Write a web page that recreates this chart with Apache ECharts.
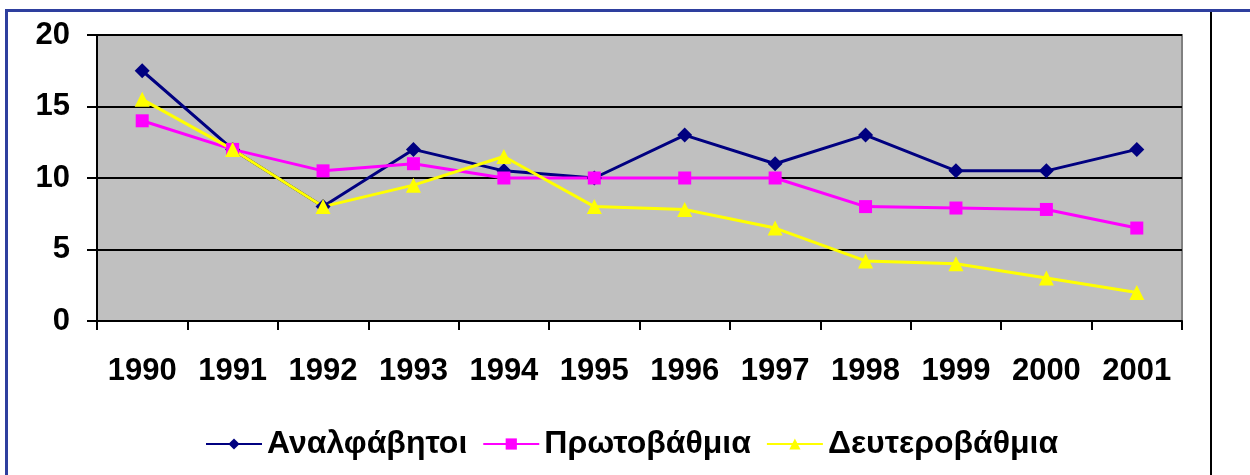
<!DOCTYPE html>
<html lang="el" style="height: 100%">

<head>
  <meta charset="utf-8" />
</head>

<body style="height: 100%; margin: 0; background: #fff">
  <div id="container" style="width: 1250px; height: 475px"></div>

  <script type="text/javascript" src="https://fastly.jsdelivr.net/npm/echarts@6.0.0/dist/echarts.min.js"></script>

  <script type="text/javascript">
    var years = ["1990", "1991", "1992", "1993", "1994", "1995", "1996", "1997", "1998", "1999", "2000", "2001"];
    var analfavitoi = [17.5, 12, 8, 12, 10.5, 10, 13, 11, 13, 10.5, 10.5, 12];
    var protovathmia = [14, 12, 10.5, 11, 10, 10, 10, 10, 8, 7.9, 7.8, 6.5];
    var defterovathmia = [15.5, 12, 8, 9.5, 11.5, 8, 7.8, 6.5, 4.2, 4, 3, 2];

    var font = "Liberation Sans, Arial, sans-serif";

    var dom = document.getElementById("container");
    var myChart = echarts.init(dom, null, { renderer: "canvas" });

    var option = {
      animation: false,
      backgroundColor: "#fff",
      graphic: [
        { type: "line", shape: { x1: 6.5, y1: 10, x2: 6.5, y2: 475 }, style: { stroke: "#2e3f9e", lineWidth: 3 } },
        { type: "line", shape: { x1: 5, y1: 10.5, x2: 1250, y2: 10.5 }, style: { stroke: "#2e3f9e", lineWidth: 3 } },
        { type: "line", shape: { x1: 1211, y1: 12, x2: 1211, y2: 475 }, style: { stroke: "#000", lineWidth: 2 } }
      ],
      grid: {
        left: 97,
        right: 68,
        top: 35,
        bottom: 154,
        show: true,
        backgroundColor: "#c0c0c0",
        borderColor: "#808080",
        borderWidth: 2
      },
      legend: {
        top: 423,
        left: 200,
        itemWidth: 56,
        itemHeight: 14,
        itemGap: 15,
        textStyle: { fontFamily: font, fontWeight: "bold", fontSize: 32, color: "#000" },
        data: ["Αναλφάβητοι", "Πρωτοβάθμια", "Δευτεροβάθμια"]
      },
      xAxis: {
        type: "category",
        data: years,
        boundaryGap: true,
        axisLine: { lineStyle: { color: "#000", width: 2 } },
        axisTick: { show: true, length: 9, lineStyle: { color: "#000", width: 2 } },
        axisLabel: { margin: 35, fontFamily: font, fontWeight: "bold", fontSize: 31, color: "#000" },
        splitLine: { show: false }
      },
      yAxis: {
        type: "value",
        min: 0,
        max: 20,
        interval: 5,
        axisLine: { show: true, lineStyle: { color: "#000", width: 2 } },
        axisTick: { show: true, length: 10, lineStyle: { color: "#000", width: 2 } },
        axisLabel: { margin: 27, fontFamily: font, fontWeight: "bold", fontSize: 31, color: "#000" },
        splitLine: { show: true, lineStyle: { color: "#000", width: 2 } }
      },
      series: [
        {
          name: "Αναλφάβητοι",
          type: "line",
          data: analfavitoi,
          symbol: "diamond",
          symbolSize: 15,
          color: "#000080",
          lineStyle: { width: 3, color: "#000080" },
          itemStyle: { color: "#000080" }
        },
        {
          name: "Πρωτοβάθμια",
          type: "line",
          data: protovathmia,
          symbol: "rect",
          symbolSize: 13,
          color: "#ff00ff",
          lineStyle: { width: 3, color: "#ff00ff" },
          itemStyle: { color: "#ff00ff" }
        },
        {
          name: "Δευτεροβάθμια",
          type: "line",
          data: defterovathmia,
          symbol: "triangle",
          symbolSize: 15,
          color: "#ffff00",
          lineStyle: { width: 3, color: "#ffff00" },
          itemStyle: { color: "#ffff00" }
        }
      ]
    };

    myChart.setOption(option);
    window.addEventListener("resize", myChart.resize);
  </script>
</body>

</html>
